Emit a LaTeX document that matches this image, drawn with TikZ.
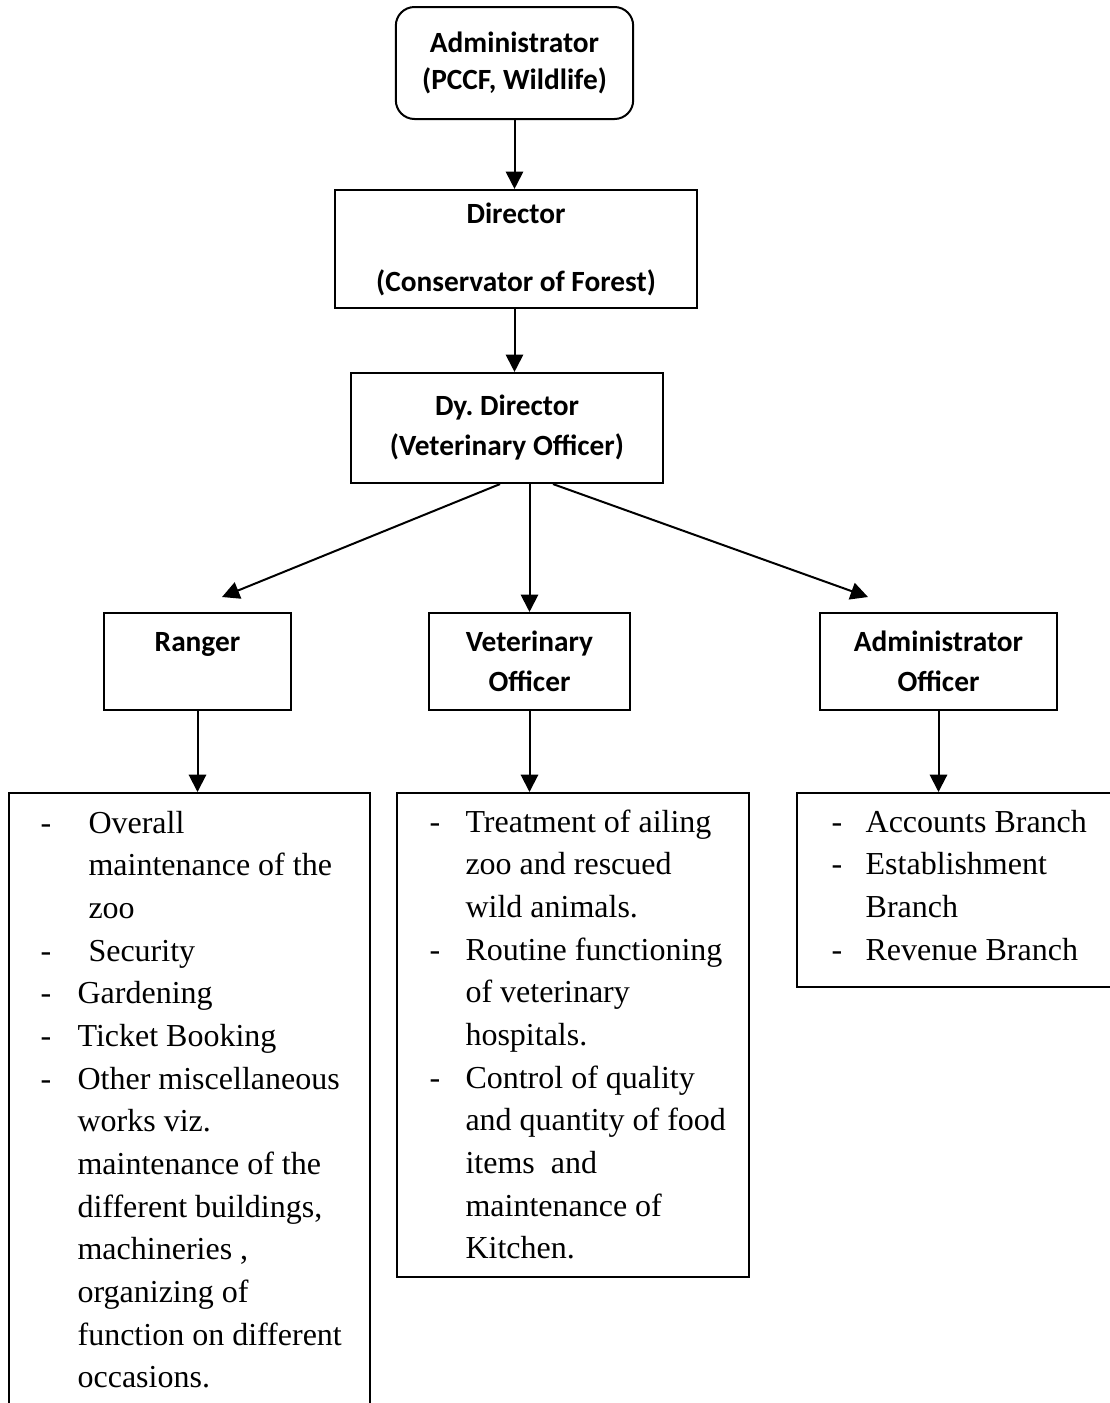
\documentclass[tikz,border=0pt]{standalone}
\usepackage{fontspec}
\setmainfont{Liberation Serif}
\newfontfamily\headfont{Carlito}
\usetikzlibrary{arrows.meta, calc, positioning}

\tikzset{
  headbox/.style={draw, line width=0.75pt, align=center, inner sep=0pt,
    font=\headfont\bfseries\fontsize{11}{15}\selectfont},
  dutybox/.style={draw, line width=0.75pt, anchor=north west, inner sep=0pt},
  duties/.style={anchor=base west, inner sep=0pt, font=\fontsize{12}{16}\selectfont},
  link/.style={line width=0.75pt, -{Triangle[length=6.5pt, width=6.5pt]}}
}

\begin{document}
\begin{tikzpicture}[x=0.375pt, y=-0.375pt]
  \useasboundingbox (0,0) rectangle (1110,1403);
  % heads
  \node[headbox, rounded corners=7pt, minimum width=89pt, minimum height=42pt] (admin) at (514.5,63) {Administrator\\[-1pt](PCCF, Wildlife)};
  \node[headbox, minimum width=136.1pt, minimum height=44.3pt] (director) at (516,249) {Director\\[10.5pt](Conservator of Forest)};
  \node[headbox, minimum width=117pt, minimum height=41.3pt] (dydirector) at (507,428) {Dy.\ Director\\(Veterinary Officer)};
  \node[headbox, minimum width=70.1pt, minimum height=36.4pt] (ranger) at (197.5,661.5) {Ranger\\ \mbox{}};
  \node[headbox, minimum width=75.4pt, minimum height=36.4pt] (vetofficer) at (529.5,661.5) {Veterinary\\Officer};
  \node[headbox, minimum width=88.9pt, minimum height=36.4pt] (adminofficer) at (938.5,661.5) {Administrator\\Officer};
  % duty boxes
  \node[dutybox, minimum width=135.4pt, minimum height=250pt] (rangerduties) at (8,792) {};
  \node[dutybox, minimum width=132pt, minimum height=181.5pt] (vetduties) at (396,792) {};
  \node[dutybox, minimum width=125pt, minimum height=72.8pt] (adminduties) at (796,792) {};
  \node[duties] (rangerlist) at (40,833) {\begin{tabular}[t]{@{}p{13.9pt}@{}l@{}}
    - & \hspace{4.1pt}Overall\\
      & \hspace{4.1pt}maintenance of the\\
      & \hspace{4.1pt}zoo\\
    - & \hspace{4.1pt}Security\\
    - & Gardening\\
    - & Ticket Booking\\
    - & Other miscellaneous\\
      & works viz.\\
      & maintenance of the\\
      & different buildings,\\
      & machineries ,\\
      & organizing of\\
      & function on different\\
      & occasions.
  \end{tabular}};
  \node[duties] (vetlist) at (429,832) {\begin{tabular}[t]{@{}p{13.5pt}@{}l@{}}
    - & Treatment of ailing\\
      & zoo and rescued\\
      & wild animals.\\
    - & Routine functioning\\
      & of veterinary\\
      & hospitals.\\
    - & Control of quality\\
      & and quantity of food\\
      & items\ \ and\\
      & maintenance of\\
      & Kitchen.
  \end{tabular}};
  \node[duties] (adminlist) at (831,832) {\begin{tabular}[t]{@{}p{12.8pt}@{}l@{}}
    - & Accounts Branch\\
    - & Establishment\\
      & Branch\\
    - & Revenue Branch
  \end{tabular}};
  % connectors
  \coordinate (rangerin) at (222,597);
  \coordinate (adminin) at (868,597);
  \draw[link] (admin.south) -- (admin.south |- director.north);
  \draw[link] (admin.south |- director.south) -- (admin.south |- dydirector.north);
  \draw[link] ($(dydirector.south)+(-7,0)$) -- (rangerin);
  \draw[link] (dydirector.south -| vetofficer.north) -- (vetofficer.north);
  \draw[link] ($(dydirector.south)+(46,0)$) -- (adminin);
  \draw[link] (ranger.south) -- (ranger.south |- rangerduties.north);
  \draw[link] (vetofficer.south) -- (vetofficer.south |- vetduties.north);
  \draw[link] (adminofficer.south) -- (adminofficer.south |- adminduties.north);
\end{tikzpicture}
\end{document}
